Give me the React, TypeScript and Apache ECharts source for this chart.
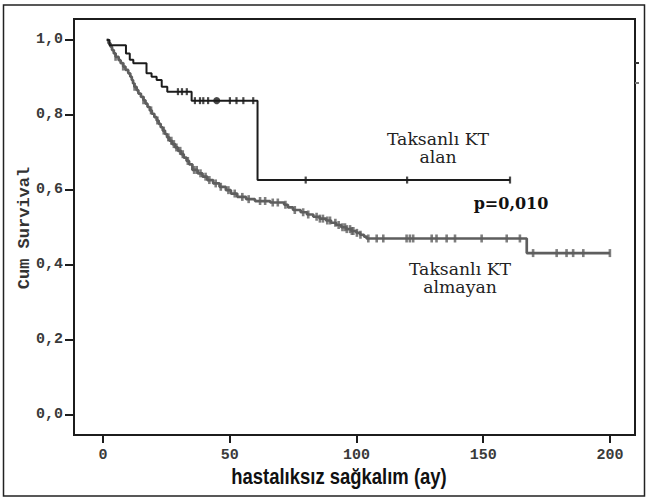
import React, { useEffect, useRef } from "react";
import * as echarts from "echarts";

// Tick values
const monthTicks = [0, 50, 100, 150, 200];
const survivalTicks = [0, 0.2, 0.4, 0.6, 0.8, 1.0];

// "Taksanlı KT alan" – Kaplan-Meier steps [month, cumulative survival]
const alanEvents: [number, number][] = [
  [1.5, 1.0], [2.6, 0.986], [9.1, 0.964], [10.6, 0.947], [12.0, 0.938],
  [17.2, 0.911], [19.2, 0.902], [21.2, 0.893], [23.2, 0.875], [25.4, 0.862],
  [35.0, 0.838], [61.0, 0.626], [160.6, 0.626],
];
const alanCensored = [29.6, 31.2, 33.1, 36.3, 38.3, 39.6, 41.5, 50.1, 52.7, 55.4, 59.3, 80, 120, 160.6];
const alanDot = [44.9];

// "Taksanlı KT almayan" – Kaplan-Meier steps
const almayanEvents: [number, number][] = [
  [1.5, 1.0], [2.2, 0.991], [3.0, 0.982], [3.6, 0.973], [4.3, 0.964], [5.0, 0.955],
  [6.2, 0.946], [7.0, 0.938], [8.0, 0.929], [8.9, 0.92], [10.0, 0.911], [10.8, 0.902],
  [11.4, 0.893], [11.9, 0.884], [12.4, 0.875], [13.3, 0.866], [14.0, 0.857], [15.0, 0.848],
  [16.0, 0.839], [16.8, 0.83], [17.6, 0.821], [18.5, 0.812], [19.3, 0.803], [20.3, 0.794],
  [21.2, 0.785], [22.0, 0.776], [22.8, 0.767], [23.6, 0.758], [24.5, 0.749], [25.3, 0.74],
  [26.2, 0.731], [27.3, 0.722], [28.5, 0.713], [29.6, 0.704], [30.8, 0.695], [31.9, 0.686],
  [33.0, 0.677], [34.0, 0.668], [35.3, 0.653], [37.4, 0.644], [39.3, 0.635], [41.2, 0.626],
  [43.5, 0.617], [46.0, 0.608], [48.5, 0.599], [50.5, 0.59], [53.0, 0.581], [56.5, 0.575],
  [60.0, 0.57], [66.0, 0.566], [71.5, 0.56], [73.0, 0.553], [75.0, 0.546], [78.0, 0.54],
  [80.5, 0.534], [83.0, 0.528], [85.5, 0.523], [88.0, 0.518], [90.0, 0.512], [92.0, 0.506],
  [94.0, 0.5], [96.0, 0.495], [98.0, 0.49], [100.0, 0.485], [101.5, 0.48], [103.0, 0.475],
  [104.0, 0.47], [167.2, 0.431], [200.0, 0.431],
];
const almayanCensored = [
  5, 8, 12.5, 16, 19, 21.5, 24, 25.8, 27, 28, 29, 30.5, 31.5, 33.5, 36, 37, 38.5, 40.5, 42,
  44.5, 46.5, 49.5, 52, 55, 57.5, 62, 64, 67, 69, 72, 75.7, 79, 81, 84.3, 85.6, 86.8, 88.5,
  89.6, 91.7, 93, 94.5, 95.5, 96.2, 97.5, 98.2, 98.8, 100.2, 101.6, 104.7, 108, 110.6, 119.8,
  121.1, 122.4, 129.7, 131.6, 135.6, 138.9, 149.4, 159.3, 164.5, 169.7, 179, 182.9, 185.5,
  189.5, 200,
];

const xTitle = "hastalıksız sağkalım (ay)";
const yTitle = "Cum Survival";
const alanLabel = "Taksanlı KT\nalan";
const almayanLabel = "Taksanlı KT\nalmayan";
const pLabel = "p=0,010";

function survivalAt(events: [number, number][], t: number): number {
  let s = events[0][1];
  for (const [et, es] of events) {
    if (et <= t) s = es;
    else break;
  }
  return s;
}

const BLACK = "#1c1c1c";
const GRAY = "#5e5e5e";
const SERIF = "DejaVu Serif, Liberation Serif, serif";

export default function App() {
  const ref = useRef<HTMLDivElement>(null);
  useEffect(() => {
    if (!ref.current) return;
    const chart = echarts.init(ref.current, undefined, { renderer: "svg" });
    const tickFont = {
      fontFamily: "Liberation Mono, DejaVu Sans Mono, monospace",
      fontSize: 15,
      fontWeight: "bold" as const,
      color: "#3a3a3a",
    };
    chart.setOption({
      animation: false,
      backgroundColor: "#ffffff",
      grid: {
        left: 74,
        top: 19,
        width: 561,
        height: 416,
        show: true,
        borderColor: BLACK,
        borderWidth: 2,
        backgroundColor: "transparent",
        containLabel: false,
        outerBoundsMode: "none",
      },
      xAxis: {
        type: "value",
        min: -11.4,
        max: 209.9,
        axisLine: { show: false, onZero: false },
        axisTick: {
          show: true,
          inside: false,
          length: 8,
          customValues: monthTicks,
          lineStyle: { color: BLACK, width: 2 },
        },
        axisLabel: {
          customValues: monthTicks,
          margin: 13,
          ...tickFont,
        },
        splitLine: { show: false },
      },
      yAxis: {
        type: "value",
        min: -0.0547,
        max: 1.056,
        axisLine: { show: false, onZero: false },
        axisTick: {
          show: true,
          inside: false,
          length: 9,
          customValues: survivalTicks,
          lineStyle: { color: BLACK, width: 2 },
        },
        axisLabel: {
          customValues: survivalTicks,
          margin: 11,
          formatter: (v: number) => v.toFixed(1).replace(".", ","),
          ...tickFont,
        },
        splitLine: { show: false },
      },
      series: [
        {
          type: "line",
          name: "almayan",
          step: "end",
          data: almayanEvents,
          showSymbol: false,
          symbol: "none",
          lineStyle: { color: GRAY, width: 2.7 },
          z: 2,
        },
        {
          type: "scatter",
          data: almayanCensored.map((t) => [t, survivalAt(almayanEvents, t)]),
          symbol: "rect",
          symbolSize: [2.6, 8],
          itemStyle: { color: GRAY },
          z: 3,
        },
        {
          type: "line",
          name: "alan",
          step: "end",
          data: alanEvents,
          showSymbol: false,
          symbol: "none",
          lineStyle: { color: BLACK, width: 2 },
          z: 4,
        },
        {
          type: "scatter",
          data: alanCensored.map((t) => [t, survivalAt(alanEvents, t)]),
          symbol: "rect",
          symbolSize: [2.2, 7],
          itemStyle: { color: BLACK },
          z: 5,
        },
        {
          type: "scatter",
          data: alanDot.map((t) => [t, survivalAt(alanEvents, t)]),
          symbol: "circle",
          symbolSize: 7,
          itemStyle: { color: BLACK },
          z: 5,
        },
      ],
      graphic: [
        {
          type: "rect",
          shape: { x: 3.5, y: 5, width: 641, height: 491 },
          style: { fill: "none", stroke: "#222", lineWidth: 1.5 },
          silent: true,
        },
        {
          type: "rect",
          shape: { x: 635, y: 62, width: 4, height: 2 },
          style: { fill: "#333" },
          silent: true,
        },
        {
          type: "rect",
          shape: { x: 635, y: 82, width: 4, height: 2 },
          style: { fill: "#777" },
          silent: true,
        },
        {
          type: "text",
          x: 24,
          y: 228,
          rotation: Math.PI / 2,
          style: {
            text: yTitle,
            fontFamily: "Liberation Mono, DejaVu Sans Mono, monospace",
            fontWeight: "bold",
            fontSize: 17,
            fill: "#333",
            textAlign: "center",
            textVerticalAlign: "middle",
          },
        },
        {
          type: "text",
          x: 339,
          y: 476,
          scaleX: 0.84,
          style: {
            text: xTitle,
            fontFamily: "Liberation Sans, Arial, sans-serif",
            fontWeight: "bold",
            fontSize: 22,
            fill: "#111",
            textAlign: "center",
            textVerticalAlign: "middle",
          },
        },
        {
          type: "text",
          x: 438,
          y: 149,
          scaleX: 1.08,
          style: {
            text: alanLabel,
            fontFamily: SERIF,
            fontSize: 16,
            lineHeight: 18,
            fill: "#222",
            textAlign: "center",
            textVerticalAlign: "middle",
          },
        },
        {
          type: "text",
          x: 460,
          y: 279,
          scaleX: 1.08,
          style: {
            text: almayanLabel,
            fontFamily: SERIF,
            fontSize: 16,
            lineHeight: 18,
            fill: "#222",
            textAlign: "center",
            textVerticalAlign: "middle",
          },
        },
        {
          type: "text",
          x: 511,
          y: 203,
          style: {
            text: pLabel,
            fontFamily: SERIF,
            fontWeight: "bold",
            fontSize: 16,
            fill: "#111",
            textAlign: "center",
            textVerticalAlign: "middle",
          },
        },
      ],
    });
    return () => chart.dispose();
  }, []);
  return (
    <div
      ref={ref}
      style={{ position: "fixed", left: 0, top: 0, width: 648, height: 498, background: "#fff" }}
    />
  );
}
